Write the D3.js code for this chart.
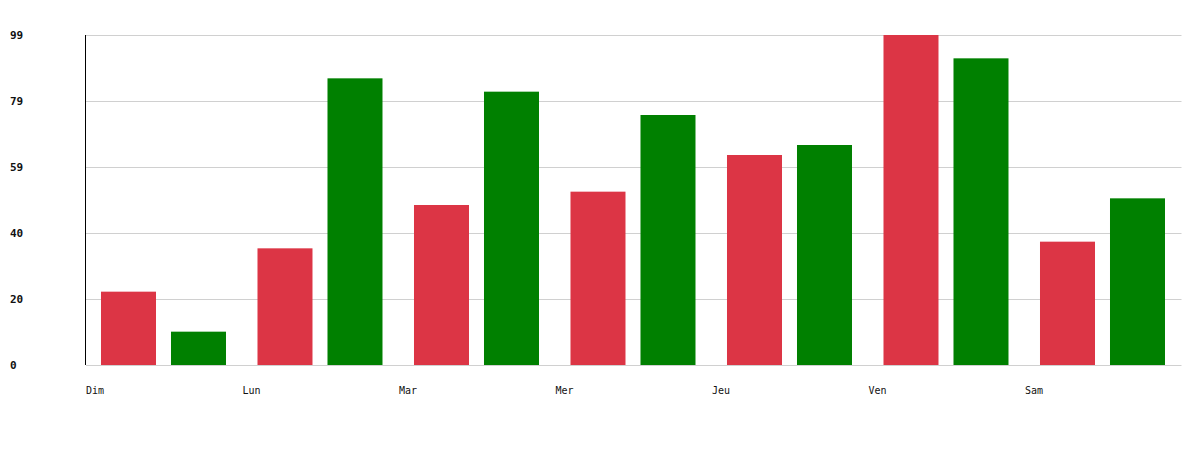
<!DOCTYPE html>
<html><head><meta charset="utf-8">
<script src="https://cdn.jsdelivr.net/npm/d3@7"></script>
<style>body{margin:0;background:#fff}svg{display:block}</style>
</head><body>
<svg id="c" width="1200" height="450"></svg>
<script>
const days = ["Dim","Lun","Mar","Mer","Jeu","Ven","Sam"];
const seriesNames = ["rouge","vert"];
const redValues = [22, 35, 48, 52, 63, 99, 37];
const greenValues = [10, 86, 82, 75, 66, 92, 50];
const yTickValues = [0, 19.8, 39.6, 59.4, 79.2, 99];
const colors = {rouge:"#dc3545", vert:"#008000"};

(function(){
const svg = d3.select("#c");
const mLeft = 86, mRight = 1181.5, mTop = 35, mBottom = 365;

const x = d3.scaleBand().domain(days).range([mLeft, mRight]).padding(0);
const xi = d3.scaleBand().domain(seriesNames).range([0, x.bandwidth()])
  .paddingInner(15/70).paddingOuter(0.225).align(0.476);
const y = d3.scaleLinear().domain([0, 99]).range([mBottom, mTop]);

// grid
svg.append("g").selectAll("line").data(yTickValues).join("line")
  .attr("x1", mLeft).attr("x2", mRight)
  .attr("y1", d => Math.round(y(d)) + 0.5).attr("y2", d => Math.round(y(d)) + 0.5)
  .attr("stroke", "#d0d0d0").attr("stroke-width", 1);

// y labels
svg.append("g").selectAll("text").data(yTickValues).join("text")
  .attr("x", 10).attr("y", d => y(d)).attr("dy", "0.35em")
  .attr("font-family", "DejaVu Sans Mono, monospace").attr("font-size", 11).attr("font-weight", "bold")
  .attr("fill", "#111")
  .text(d => Math.round(d));

// bars
const data = days.map((d, i) => ({day: d, vals: [{s:"rouge", v: redValues[i]}, {s:"vert", v: greenValues[i]}]}));
const groups = svg.append("g").selectAll("g").data(data).join("g")
  .attr("transform", d => `translate(${x(d.day)},0)`);
groups.selectAll("rect").data(d => d.vals).join("rect")
  .attr("x", d => xi(d.s)).attr("width", xi.bandwidth())
  .attr("y", d => y(d.v)).attr("height", d => y(0) - y(d.v))
  .attr("fill", d => colors[d.s]);

// y axis line
svg.append("line").attr("x1", mLeft - 0.5).attr("x2", mLeft - 0.5).attr("y1", mTop).attr("y2", mBottom)
  .attr("stroke", "#000").attr("stroke-width", 1);

// x labels
svg.append("g").selectAll("text").data(days).join("text")
  .attr("x", d => x(d)).attr("y", 394)
  .attr("font-family", "DejaVu Sans Mono, monospace").attr("font-size", 10)
  .attr("fill", "#111")
  .text(d => d);
})();
</script>
</body></html>
